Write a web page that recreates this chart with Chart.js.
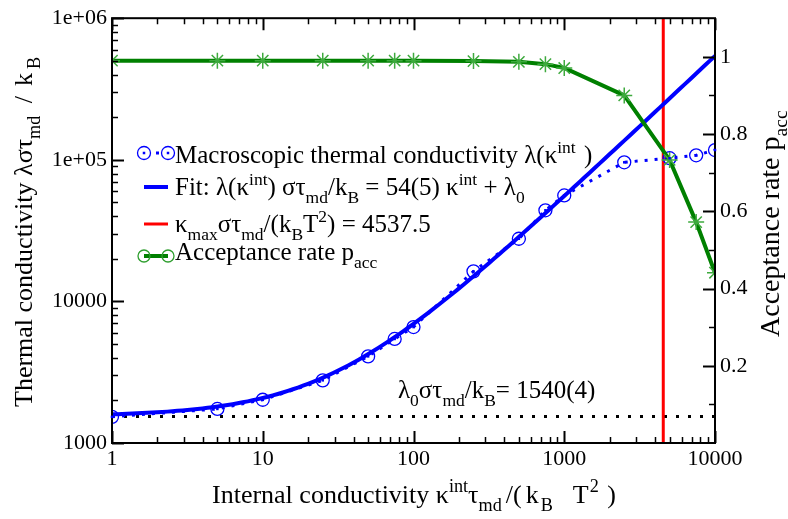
<!DOCTYPE html>
<html>
<head>
<meta charset="utf-8">
<script src="https://cdn.jsdelivr.net/npm/chart.js@4.4.1/dist/chart.umd.min.js"></script>
<style>
  html, body { margin: 0; padding: 0; background: #fff; }
  canvas { display: block; }
</style>
</head>
<body>
<canvas id="kappaChart" width="788" height="519"></canvas>
<script>
// Measured points: internal conductivity vs. macroscopic conductivity and acceptance rate
const kappa = [1, 5, 10, 25, 50, 75, 100, 250, 500, 750, 1000, 2500, 5000, 7500, 10000];
const lambda = [1530, 1740, 2020, 2770, 4090, 5430, 6590, 16300, 27700, 44000, 56000, 96000, 102600, 107600, 117200];
const pacc = [0.99, 0.99, 0.99, 0.99, 0.99, 0.99, 0.99, 0.989, 0.987, 0.981, 0.971, 0.90, 0.733, 0.572, 0.441];

// Fit parameters: lambda(kappa) = slope * kappa + lambda0
const fitSlope = 54;
const lambda0 = 1540;
const kappaMax = 4537.5;

const xTicks = [1, 10, 100, 1000, 10000];
const yTicks = [1000, 10000, 100000, 1000000];
const yTickLabels = ['1000', '10000', '1e+05', '1e+06'];
const pTicks = [0.2, 0.4, 0.6, 0.8, 1];
const pTickLabels = ['0.2', '0.4', '0.6', '0.8', '1'];

const SERIF = '"Liberation Serif", "Times New Roman", serif';
Chart.defaults.font.family = SERIF;
Chart.defaults.font.size = 22;
Chart.defaults.color = '#000';
const tickFont = { family: SERIF, size: 22 };

// fit curve sampled on a log grid
const fitPts = [];
for (let i = 0; i <= 120; i++) {
    const k = Math.pow(10, 4 * i / 120);
    fitPts.push({ x: k, y: fitSlope * k + lambda0 });
}

// text with sub/superscripts: parts = [[text, kind, gapBefore]], kind '' | 'b' (sub) | 'p' (sup)
function richText(ctx, x, y, parts, size) {
    let cx = x;
    parts.forEach(([t, kind, gap]) => {
        let s = size, dy = 0;
        if (kind === 'b') { s = size * 0.7; dy = size * 0.3; }
        if (kind === 'p') { s = size * 0.7; dy = -size * 0.42; }
        cx += gap || 0;
        ctx.font = s + 'px ' + SERIF;
        ctx.fillText(t, cx, y + dy);
        cx += ctx.measureText(t).width;
    });
    return cx;
}

const axisDecor = {
    id: 'axisDecor',
    afterDatasetsDraw(chart) {
        const { ctx, chartArea: a, scales } = chart;
        const xs = scales.x, ys = scales.y, ps = scales.y2;
        ctx.save();
        ctx.strokeStyle = '#000';
        ctx.lineCap = 'butt';

        // log ticks on bottom/top
        for (let d = 0; d <= 4; d++) {
            for (let m = 1; m <= 9; m++) {
                const v = m * Math.pow(10, d);
                if (v > 10000) break;
                const px = Math.round(xs.getPixelForValue(v)) + 0.5;
                const len = m === 1 ? 12 : 6;
                ctx.lineWidth = m === 1 ? 2 : 1.5;
                ctx.beginPath();
                ctx.moveTo(px, a.bottom); ctx.lineTo(px, a.bottom - len);
                ctx.moveTo(px, a.top); ctx.lineTo(px, a.top + len);
                ctx.stroke();
            }
        }
        // log ticks on left
        for (let d = 3; d <= 6; d++) {
            for (let m = 1; m <= 9; m++) {
                const v = m * Math.pow(10, d);
                if (v > 1e6) break;
                const py = Math.round(ys.getPixelForValue(v)) + 0.5;
                const len = m === 1 ? 12 : 6;
                ctx.lineWidth = m === 1 ? 2 : 1.5;
                ctx.beginPath();
                ctx.moveTo(a.left, py); ctx.lineTo(a.left + len, py);
                ctx.stroke();
            }
        }
        // linear ticks on right
        for (let k = 1; k <= 10; k++) {
            const py = Math.round(ps.getPixelForValue(k / 10)) + 0.5;
            const len = k % 2 === 0 ? 12 : 6;
            ctx.lineWidth = k % 2 === 0 ? 2 : 1.5;
            ctx.beginPath();
            ctx.moveTo(a.right, py); ctx.lineTo(a.right - len, py);
            ctx.stroke();
        }

        ctx.lineWidth = 2;
        ctx.strokeRect(a.left, a.top, a.right - a.left, a.bottom - a.top);

        // small dots at the centre of the data circles
        ctx.fillStyle = '#0000ff';
        chart.getDatasetMeta(1).data.forEach(p => {
            ctx.fillRect(p.x - 1.25, p.y - 1.25, 2.5, 2.5);
        });
        ctx.restore();
    },
    afterDraw(chart) {
        const { ctx } = chart;
        ctx.save();
        ctx.fillStyle = '#000';
        ctx.textBaseline = 'alphabetic';
        ctx.textAlign = 'left';

        // axis titles
        richText(ctx, 212, 503, [['Internal conductivity κ', ''], ['int', 'p'], ['τ', ''], ['md', 'b'],
            ['/(', '', 4], ['k', '', 4], ['B', 'b', 2], ['T', '', 20], ['2', 'p', 1], [' )', '', 2]], 26);

        ctx.save();
        ctx.translate(32, 407);
        ctx.rotate(-Math.PI / 2);
        richText(ctx, 0, 0, [['Thermal conductivity λστ', ''], ['md', 'b'], [' /', '', 6],
            ['k', '', 10], ['B', 'b', 4]], 26);
        ctx.restore();

        ctx.save();
        ctx.translate(779, 337);
        ctx.rotate(-Math.PI / 2);
        richText(ctx, 0, 0, [['Acceptance rate p', ''], ['acc', 'b']], 28);
        ctx.restore();

        // legend
        const lx0 = 144, lx1 = 168, tx = 175, fs = 25;
        ctx.lineWidth = 1.3;
        ctx.strokeStyle = '#0000ff';
        ctx.fillStyle = '#0000ff';
        [lx0, lx1].forEach(cx => {
            ctx.beginPath(); ctx.arc(cx, 153, 6.5, 0, Math.PI * 2); ctx.stroke();
            ctx.fillRect(cx - 1.25, 153 - 1.25, 2.5, 2.5);
        });
        ctx.fillRect(156, 151.5, 3, 3);

        ctx.lineWidth = 4;
        ctx.beginPath(); ctx.moveTo(lx0, 187); ctx.lineTo(lx1, 187); ctx.stroke();

        ctx.strokeStyle = '#ff0000';
        ctx.lineWidth = 3;
        ctx.beginPath(); ctx.moveTo(lx0, 224); ctx.lineTo(lx1, 224); ctx.stroke();

        ctx.strokeStyle = '#008000';
        ctx.lineWidth = 4;
        ctx.beginPath(); ctx.moveTo(lx0, 256); ctx.lineTo(lx1, 256); ctx.stroke();
        ctx.strokeStyle = '#2e9e2e';
        ctx.lineWidth = 1.3;
        [lx0, lx1].forEach(cx => {
            ctx.beginPath(); ctx.arc(cx, 256, 6, 0, Math.PI * 2); ctx.stroke();
        });

        ctx.fillStyle = '#000';
        richText(ctx, tx, 163, [['Macroscopic thermal conductivity λ(κ', ''], ['int', 'p'], [' )', '', 2]], fs);
        richText(ctx, tx, 195, [['Fit: λ(κ', ''], ['int', 'p'], [') στ', ''], ['md', 'b'], ['/k', ''], ['B', 'b'],
            [' = ' + fitSlope + '(5) κ', ''], ['int', 'p'], [' + λ', ''], ['0', 'b']], fs);
        richText(ctx, tx, 232, [['κ', ''], ['max', 'b'], ['στ', ''], ['md', 'b'], ['/(k', ''], ['B', 'b'],
            ['T', ''], ['2', 'p'], [') = ' + kappaMax, '']], fs);
        richText(ctx, tx, 260, [['Acceptance rate p', ''], ['acc', 'b']], fs);

        // offset annotation above the dotted line
        richText(ctx, 398, 398, [['λ', ''], ['0', 'b'], ['στ', ''], ['md', 'b'], ['/k', ''], ['B', 'b'],
            ['= ' + lambda0 + '(4)', '']], fs);
        ctx.restore();
    }
};

new Chart(document.getElementById('kappaChart'), {
    type: 'scatter',
    data: {
        datasets: [
            {
                label: 'Acceptance rate',
                data: kappa.map((k, i) => ({ x: k, y: pacc[i] })),
                yAxisID: 'y2',
                showLine: true,
                borderColor: '#008000',
                borderWidth: 4,
                pointStyle: 'star',
                pointRadius: 8,
                pointBorderColor: '#3eaa3e',
                pointBorderWidth: 1.5,
                order: 0
            },
            {
                label: 'Macroscopic thermal conductivity',
                data: kappa.map((k, i) => ({ x: k, y: lambda[i] })),
                yAxisID: 'y',
                showLine: true,
                borderColor: '#0000ff',
                borderWidth: 3,
                borderDash: [3, 7],
                pointStyle: 'circle',
                pointRadius: 6.5,
                pointBorderWidth: 1.3,
                pointBorderColor: '#0000ff',
                pointBackgroundColor: 'rgba(0,0,0,0)',
                order: 1
            },
            {
                label: 'Fit',
                data: fitPts,
                yAxisID: 'y',
                showLine: true,
                borderColor: '#0000ff',
                borderWidth: 4,
                pointRadius: 0,
                order: 2
            },
            {
                label: 'kappa max',
                data: [{ x: kappaMax, y: 1000 }, { x: kappaMax, y: 1e6 }],
                yAxisID: 'y',
                showLine: true,
                borderColor: '#ff0000',
                borderWidth: 3,
                pointRadius: 0,
                order: 3
            },
            {
                label: 'lambda0',
                data: [{ x: 1, y: lambda0 }, { x: 10000, y: lambda0 }],
                yAxisID: 'y',
                showLine: true,
                borderColor: '#000',
                borderWidth: 3,
                borderDash: [3, 9],
                pointRadius: 0,
                order: 4
            }
        ]
    },
    options: {
        responsive: false,
        animation: false,
        events: [],
        layout: { padding: { top: 12, left: 0, right: 0, bottom: 0 } },
        plugins: { legend: { display: false }, tooltip: { enabled: false } },
        scales: {
            x: {
                type: 'logarithmic',
                min: 1, max: 10000,
                grid: { display: false, drawTicks: false },
                border: { display: false },
                afterBuildTicks: s => { s.ticks = xTicks.map(v => ({ value: v })); },
                ticks: { font: tickFont, autoSkip: false, maxRotation: 0, padding: 3, callback: v => String(v) },
                afterFit: s => { s.height = 76; }
            },
            y: {
                type: 'logarithmic',
                position: 'left',
                min: 1000, max: 1e6,
                grid: { display: false, drawTicks: false },
                border: { display: false },
                afterBuildTicks: s => { s.ticks = yTicks.map(v => ({ value: v })); },
                ticks: { font: tickFont, autoSkip: false, padding: 5, callback: v => yTickLabels[yTicks.indexOf(v)] },
                afterFit: s => { s.width = 112; }
            },
            y2: {
                type: 'linear',
                position: 'right',
                min: 0, max: 1.1,
                grid: { display: false, drawTicks: false },
                border: { display: false },
                afterBuildTicks: s => { s.ticks = pTicks.map(v => ({ value: v })); },
                ticks: { font: tickFont, autoSkip: false, padding: 5, callback: v => pTickLabels[pTicks.indexOf(v)] },
                afterFit: s => { s.width = 73; }
            }
        }
    },
    plugins: [axisDecor]
});
</script>
</body>
</html>
